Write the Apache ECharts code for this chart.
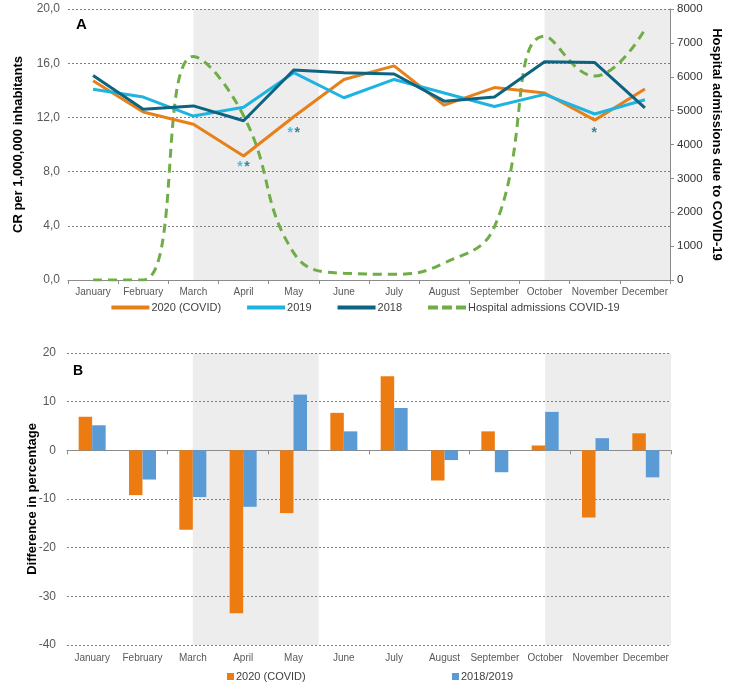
<!DOCTYPE html>
<html>
<head>
<meta charset="utf-8">
<script src="https://cdn.jsdelivr.net/npm/echarts@6/dist/echarts.min.js"></script>
<style>
html,body{margin:0;padding:0;background:#fff;}
#c{width:731px;height:691px;}
</style>
</head>
<body>
<div id="c"></div>
<script>
var months = ['January','February','March','April','May','June','July','August','September','October','November','December'];
var cr2020 = [14.7,12.4,11.5,9.15,12.05,14.8,15.8,12.9,14.2,13.8,11.8,14.1];
var cr2019 = [14.07,13.5,12.1,12.75,15.3,13.45,14.8,13.8,12.8,13.7,12.25,13.3];
var cr2018 = [15.1,12.6,12.85,11.75,15.5,15.3,15.2,13.2,13.5,16.1,16.05,12.7];
var admissions = [0,0,6600,4850,800,200,170,500,1570,7200,6020,7400];
var diff2020 = [6.9,-9.2,-16.3,-33.5,-12.9,7.7,15.2,-6.2,3.9,1.0,-13.8,3.5];
var diff1819 = [5.15,-6.0,-9.6,-11.6,11.45,3.9,8.7,-2.0,-4.5,7.9,2.5,-5.55];
// significance asterisks (position in data space, below the 2020 line)
var star2019Months = ['April','May'];
var star2019Values = [8.3,10.8];
var star2018Months = ['April','May','November'];
var star2018Values = [8.3,10.8,10.8];
var shadeRanges = [[2.5,5],[9.5,12]];

var C_OR = '#E8801A', C_LB = '#1FB3E2', C_DT = '#0E6480', C_GR = '#70AD47';
var B_OR = '#EC7C12', B_BL = '#5B9BD5';
var FONT = 'Liberation Sans, Arial, sans-serif';

var chart = echarts.init(document.getElementById('c'), null, {renderer:'canvas'});

function shade(){
  return shadeRanges.map(function(r){ return [{xAxis:r[0]},{xAxis:r[1]}]; });
}
function pairs(ms, vs){ return ms.map(function(m,i){ return [m, vs[i]]; }); }
var labelMap = {'2020 (COVID)':'2020 (COVID)','2019':'2019','2018':'2018','Hospital admissions COVID-19':'Hospital admissions COVID-19','bar2020':'2020 (COVID)','bar1819':'2018/2019'};
var DASH_ICON = 'path://M0,0h10v4h-10z M14,0h10v4h-10z M28,0h10v4h-10z';

function starSeries(data, color, dx, singleDx){
  return {type:'scatter', xAxisIndex:0, yAxisIndex:0, symbolSize:1, itemStyle:{color:'rgba(0,0,0,0)'}, silent:true, z:7,
    data:data.map(function(d){
      return {value:d, label:{offset:[(d[0]==='November' ? singleDx : dx),0]}};
    }),
    label:{show:true, position:[0,0], align:'center', verticalAlign:'middle', formatter:'*',
      fontSize:14, fontWeight:'bold', color:color, fontFamily:FONT}};
}

var option = {
  animation:false,
  textStyle:{fontFamily:FONT},
  title:[
    {text:'A', left:71, top:12, textStyle:{fontSize:15, fontWeight:'bold', color:'#000', fontFamily:FONT}},
    {text:'B', left:68, top:359, textStyle:{fontSize:14, fontWeight:'bold', color:'#000', fontFamily:FONT}}
  ],
  legend:[
    {data:[{name:'2020 (COVID)', icon:'rect'},{name:'2019', icon:'rect'},{name:'2018', icon:'rect'},{name:'Hospital admissions COVID-19', icon:DASH_ICON}],
     left:'center', top:297, itemWidth:38, itemHeight:4, itemGap:26,
     formatter:function(n){return labelMap[n];}, textStyle:{fontSize:11, color:'#404040', fontFamily:FONT, padding:[0,0,0,-3]}},
    {data:['bar2020'], left:222, top:666, itemWidth:7, itemHeight:7, icon:'rect',
     formatter:function(n){return labelMap[n];}, textStyle:{fontSize:11, color:'#404040', fontFamily:FONT, padding:[0,0,0,-3]}},
    {data:['bar1819'], left:447, top:666, itemWidth:7, itemHeight:7, icon:'rect',
     formatter:function(n){return labelMap[n];}, textStyle:{fontSize:11, color:'#404040', fontFamily:FONT, padding:[0,0,0,-3]}}
  ],
  grid:[
    {left:68, right:61, top:9, height:271, outerBoundsMode:'none', containLabel:false},
    {left:67, right:60, top:353, height:292, outerBoundsMode:'none', containLabel:false}
  ],
  xAxis:[
    {type:'category', gridIndex:0, data:months, boundaryGap:true,
     axisLine:{lineStyle:{color:'#8c8c8c'}}, axisTick:{show:true, length:4, lineStyle:{color:'#8c8c8c'}},
     axisLabel:{fontSize:10, color:'#595959', margin:7, interval:0, fontFamily:FONT}},
    {type:'value', gridIndex:0, min:0, max:12, show:false},
    {type:'category', gridIndex:1, data:months, boundaryGap:true, position:'bottom',
     axisLine:{show:false, onZero:false}, axisTick:{show:false},
     axisLabel:{fontSize:10, color:'#595959', margin:8, interval:0, fontFamily:FONT}},
    {type:'category', gridIndex:1, data:months, boundaryGap:true, position:'bottom',
     axisLine:{show:true, onZero:true, lineStyle:{color:'#8c8c8c'}}, axisTick:{show:true, length:4, lineStyle:{color:'#8c8c8c'}},
     axisLabel:{show:false}},
    {type:'value', gridIndex:1, min:0, max:12, show:false}
  ],
  yAxis:[
    {type:'value', gridIndex:0, min:0, max:20, interval:4,
     name:'CR per 1,000,000 inhabitants', nameLocation:'middle', nameRotate:90, nameGap:43, nameMoveOverlap:false,
     nameTextStyle:{fontSize:13, fontWeight:'bold', color:'#000', fontFamily:FONT},
     axisLine:{show:false}, axisTick:{show:false},
     axisLabel:{fontSize:12, color:'#595959', margin:8, fontFamily:FONT, formatter:function(v){return v.toFixed(1).replace('.',',');}},
     splitLine:{show:true, lineStyle:{color:'#7f7f7f', type:[2,2], width:1}}},
    {type:'value', gridIndex:0, min:0, max:8000, interval:1000, position:'right',
     name:'Hospital admissions due to COVID-19', nameLocation:'middle', nameRotate:-90, nameGap:40, nameMoveOverlap:false,
     nameTextStyle:{fontSize:13, fontWeight:'bold', color:'#000', fontFamily:FONT},
     axisLine:{show:true, lineStyle:{color:'#8c8c8c'}}, axisTick:{show:true, length:4, lineStyle:{color:'#8c8c8c'}},
     axisLabel:{fontSize:11.5, color:'#333', margin:7, fontFamily:FONT, formatter:function(v){return String(v);}},
     splitLine:{show:false}},
    {type:'value', gridIndex:1, min:-40, max:20, interval:10,
     name:'Difference in percentage', nameLocation:'middle', nameRotate:90, nameGap:28, nameMoveOverlap:false,
     nameTextStyle:{fontSize:13, fontWeight:'bold', color:'#000', fontFamily:FONT},
     axisLine:{show:false}, axisTick:{show:false},
     axisLabel:{fontSize:12, color:'#595959', margin:11, fontFamily:FONT},
     splitLine:{show:true, lineStyle:{color:'#7f7f7f', type:[2,2], width:1}}}
  ],
  series:[
    {type:'line', xAxisIndex:1, yAxisIndex:0, data:[], z:-1, silent:true,
     markArea:{silent:true, z:-1, itemStyle:{color:'#EDEDED'}, data:shade()}},
    {type:'line', xAxisIndex:4, yAxisIndex:2, data:[], z:-1, silent:true,
     markArea:{silent:true, z:-1, itemStyle:{color:'#EDEDED'}, data:shade()}},
    {name:'Hospital admissions COVID-19', type:'line', xAxisIndex:0, yAxisIndex:1, data:admissions, smooth:0.45,
     symbol:'none', lineStyle:{color:C_GR, width:3, type:[9,6]}, itemStyle:{color:C_GR}, z:3},
    {name:'2020 (COVID)', type:'line', xAxisIndex:0, yAxisIndex:0, data:cr2020, symbol:'none',
     lineStyle:{color:C_OR, width:3}, itemStyle:{color:C_OR}, z:4},
    {name:'2019', type:'line', xAxisIndex:0, yAxisIndex:0, data:cr2019, symbol:'none',
     lineStyle:{color:C_LB, width:3}, itemStyle:{color:C_LB}, z:5},
    {name:'2018', type:'line', xAxisIndex:0, yAxisIndex:0, data:cr2018, symbol:'none',
     lineStyle:{color:C_DT, width:3}, itemStyle:{color:C_DT}, z:6},
    starSeries(pairs(star2019Months, star2019Values), C_LB, -3, 0),
    starSeries(pairs(star2018Months, star2018Values), C_DT, 4, 0),
    {name:'bar2020', type:'bar', xAxisIndex:2, yAxisIndex:2, data:diff2020, barWidth:13.5, barGap:'0%',
     itemStyle:{color:B_OR}, z:3},
    {name:'bar1819', type:'bar', xAxisIndex:2, yAxisIndex:2, data:diff1819, barWidth:13.5, barGap:'0%',
     itemStyle:{color:B_BL}, z:3}
  ]
};
chart.setOption(option);
</script>
</body>
</html>
